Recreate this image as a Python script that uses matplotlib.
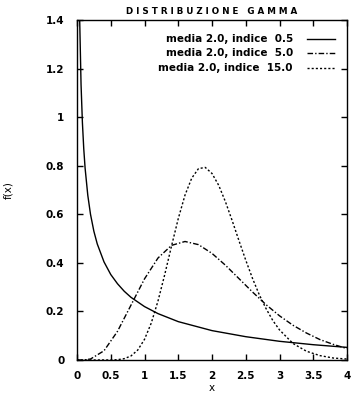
import numpy as np
import matplotlib
matplotlib.use("Agg")
import matplotlib.pyplot as plt

plt.rcParams['font.family'] = ['DejaVu Sans']

# values (gamma densities, mean 2.0)
x_k05 = [0.04, 0.06, 0.08, 0.10, 0.12, 0.16, 0.20, 0.25, 0.30, 0.40, 0.50, 0.60,
         0.70, 0.80, 1.00, 1.20, 1.50, 2.00, 2.50, 3.00, 3.50, 4.00]
y_k05 = [1.397, 1.134, 0.978, 0.870, 0.790, 0.678, 0.600, 0.530, 0.478, 0.404, 0.352, 0.314,
         0.283, 0.258, 0.220, 0.191, 0.158, 0.121, 0.096, 0.077, 0.063, 0.052]

x_k5 = [0.0, 0.1, 0.2, 0.4, 0.6, 0.8, 1.0, 1.2, 1.4, 1.6, 1.8, 2.0, 2.2, 2.4,
        2.6, 2.8, 3.0, 3.2, 3.4, 3.6, 3.8, 4.0]
y_k5 = [0.0, 0.0003, 0.004, 0.038, 0.118, 0.226, 0.334, 0.420, 0.472, 0.488, 0.475, 0.439,
        0.390, 0.335, 0.280, 0.228, 0.182, 0.143, 0.111, 0.084, 0.064, 0.047]

x_k15 = [0.0, 0.5, 0.6, 0.7, 0.8, 0.9, 1.0, 1.1, 1.2, 1.3, 1.4, 1.5, 1.6, 1.7, 1.8, 1.9,
         2.0, 2.1, 2.2, 2.3, 2.4, 2.5, 2.6, 2.7, 2.8, 2.9, 3.0, 3.2, 3.4, 3.6, 3.8, 4.0]
y_k15 = [0.0, 0.0002, 0.0013, 0.0055, 0.0167, 0.041, 0.085, 0.152, 0.243, 0.352, 0.469,
         0.582, 0.679, 0.749, 0.788, 0.793, 0.768, 0.719, 0.651, 0.573, 0.491, 0.411,
         0.336, 0.269, 0.212, 0.163, 0.124, 0.068, 0.036, 0.018, 0.008, 0.004]

labels = ['media 2.0, indice  0.5', 'media 2.0, indice  5.0', 'media 2.0, indice  15.0']
styles = ['-', (0, (4, 1.5, 1, 1.5)), (0, (1.5, 1.5))]

xticks = [0, 0.5, 1, 1.5, 2, 2.5, 3, 3.5, 4]
xticklabels = ['0', '0.5', '1', '1.5', '2', '2.5', '3', '3.5', '4']
yticks = [0, 0.2, 0.4, 0.6, 0.8, 1.0, 1.2, 1.4]
yticklabels = ['0', '0.2', '0.4', '0.6', '0.8', '1', '1.2', '1.4']

fig = plt.figure(figsize=(3.51, 3.94), dpi=100)
ax = fig.add_axes([77 / 351, 34 / 394, 270 / 351, 340 / 394])

series = [(x_k05, y_k05), (x_k5, y_k5), (x_k15, y_k15)]
for (xs, ys), ls in zip(series, styles):
    ax.plot(xs, ys, color='black', lw=1.0, linestyle=ls, clip_on=True)

ax.set_xlim(0, 4)
ax.set_ylim(0, 1.4)
ax.set_xticks(xticks)
ax.set_xticklabels(xticklabels)
ax.set_yticks(yticks)
ax.set_yticklabels(yticklabels)
ax.tick_params(direction='in', length=4, width=1, top=True, right=True,
               labelsize=7.5)
ax.tick_params(axis='y', pad=9)
ax.tick_params(axis='x', pad=8)
for lab in ax.get_xticklabels() + ax.get_yticklabels():
    lab.set_fontweight('bold')
for sp in ax.spines.values():
    sp.set_linewidth(1.0)

ax.set_xlabel('x', fontsize=7.5)
ax.xaxis.set_label_coords(0.5, -0.068)
ax.set_ylabel('f(x)', fontsize=7.5)
ax.yaxis.set_label_coords(-0.235, 0.5)
ax.set_title('D I S T R I B U Z I O N E   G A M M A', fontsize=6.3, fontweight='bold', pad=4)

# legend drawn by hand: text right-aligned, sample on the right
for i, (lab, ls) in enumerate(zip(labels, styles)):
    yy = 0.945 - i * 0.043
    ax.text(0.80, yy, lab, transform=ax.transAxes, ha='right', va='center',
            fontsize=7.5, fontweight='bold')
    ax.plot([0.85, 0.955], [yy, yy], transform=ax.transAxes, color='black',
            lw=1.0, linestyle=ls)

fig.savefig('out.png', dpi=100)
